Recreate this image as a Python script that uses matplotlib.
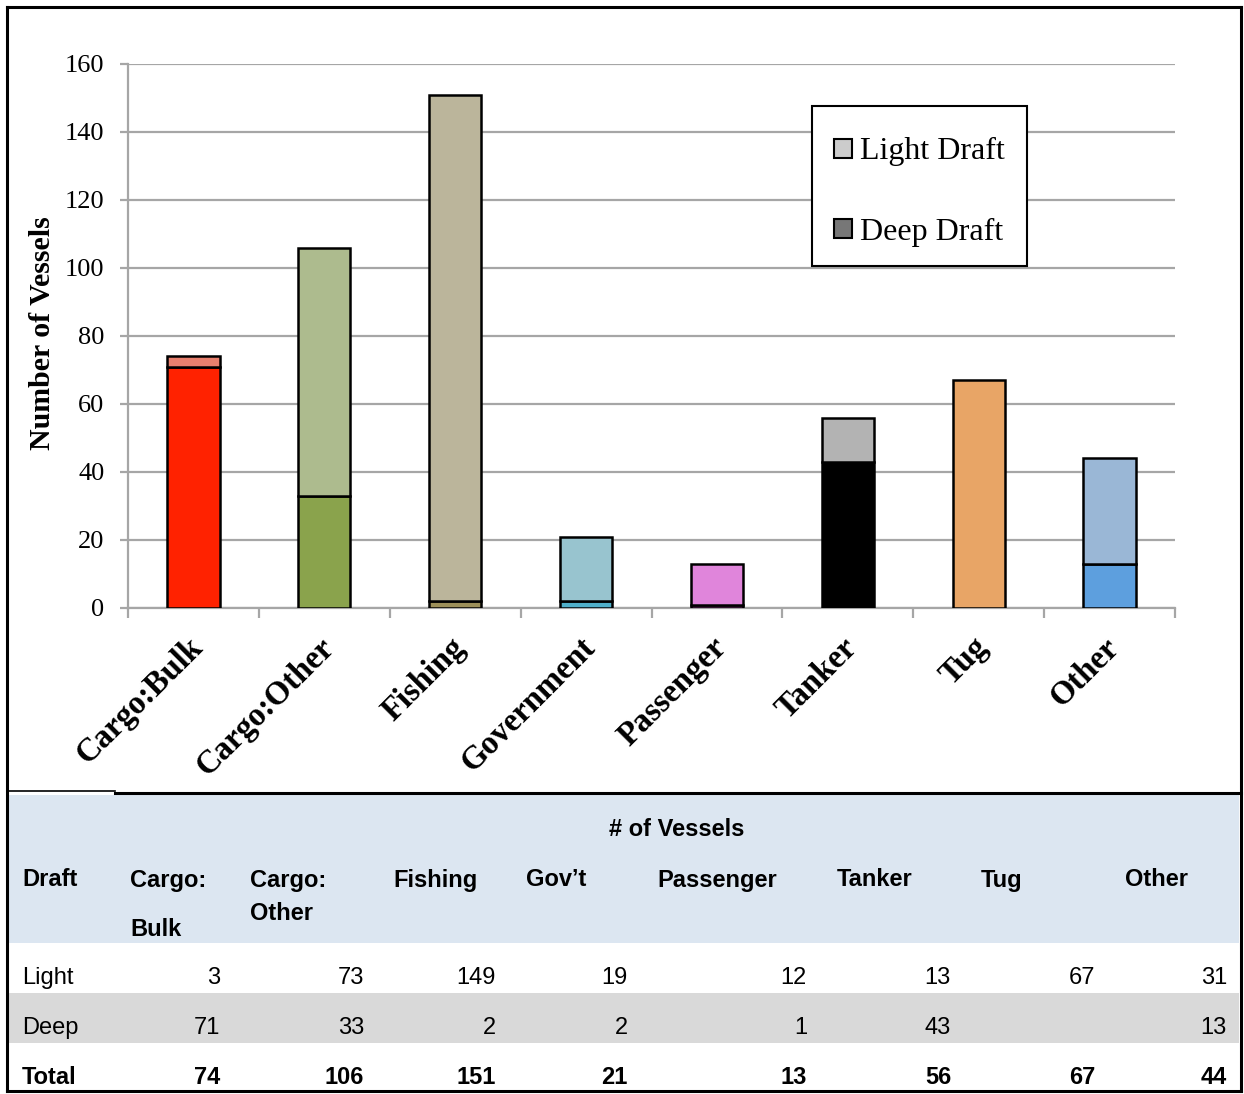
import numpy as np
import matplotlib
matplotlib.use("Agg")
import matplotlib.pyplot as plt
from matplotlib.patches import Patch, Rectangle
from matplotlib.lines import Line2D
from matplotlib.transforms import ScaledTranslation

# ---- data -------------------------------------------------------------
categories = ["Cargo:Bulk", "Cargo:Other", "Fishing", "Government",
              "Passenger", "Tanker", "Tug", "Other"]
light_draft = [3, 73, 149, 19, 12, 13, 67, 31]
deep_draft = [71, 33, 2, 2, 1, 43, 0, 13]

light_colors = ["#E8806E", "#ADBB8E", "#BBB59B", "#98C4CF",
                "#E085DB", "#B3B3B3", "#E8A566", "#9AB7D6"]
deep_colors = ["#FF2200", "#8AA34C", "#9C8F58", "#4FAFC9",
               "#C850C0", "#000000", "#E8A566", "#5D9FDE"]

table_headers = [["Cargo:", "Bulk"], ["Cargo:", "Other"], ["Fishing"], ["Gov\u2019t"],
                 ["Passenger"], ["Tanker"], ["Tug"], ["Other"]]
y_ticks = [0, 20, 40, 60, 80, 100, 120, 140, 160]

# ---- figure in pixel units ---------------------------------------------
W, H = 1244, 1094
fig = plt.figure(figsize=(W / 100, H / 100), dpi=100)


def fx(x):
    return x / W


def fy(y):
    return 1 - y / H


SERIF = ["Liberation Serif", "DejaVu Serif"]
SANS = ["Liberation Sans Narrow", "Liberation Sans", "DejaVu Sans"]
GRID = "#A6A6A6"

ax = fig.add_axes([fx(128), fy(608), (1175 - 128) / W, (608 - 64) / H])
x = np.arange(len(categories))

ax.bar(x, deep_draft, width=0.4, color=deep_colors, edgecolor="black",
       linewidth=1.8, zorder=3)
ax.bar(x, light_draft, width=0.4, bottom=deep_draft, color=light_colors,
       edgecolor="black", linewidth=1.8, zorder=3)

ax.set_xlim(-0.5, len(categories) - 0.5)
ax.set_ylim(0, 160)
ax.set_yticks(y_ticks)
ax.yaxis.grid(True, color=GRID, linewidth=1.6)
ax.set_axisbelow(True)
for side in ("top", "right"):
    ax.spines[side].set_visible(False)
for side in ("left", "bottom"):
    ax.spines[side].set_color(GRID)
    ax.spines[side].set_linewidth(1.6)

ax.tick_params(axis="y", length=6, width=1.6, color=GRID, pad=11)
for lab in ax.get_yticklabels():
    lab.set_fontfamily(SERIF)
    lab.set_fontsize(19)

ax.set_xticks(x)
ax.set_xticks(np.arange(-0.5, len(categories), 1), minor=True)
ax.tick_params(axis="x", which="major", length=0, pad=17)
ax.tick_params(axis="x", which="minor", length=7.2, width=1.6, color=GRID)
ax.set_xticklabels(categories, rotation=45, ha="right", va="top",
                   rotation_mode="anchor", fontfamily=SERIF,
                   fontweight="bold", fontsize=23.5)
shift = ScaledTranslation(-6 / 100, 0, fig.dpi_scale_trans)
for lab in ax.get_xticklabels():
    lab.set_transform(lab.get_transform() + shift)

ax.set_ylabel("Number of Vessels", fontfamily=SERIF, fontweight="bold",
              fontsize=21.5)
ax.yaxis.set_label_coords((56 - 128) / 1047, (608 - 333) / 544)

# legend entries placed without a frame; the box is drawn separately
handles = [Patch(facecolor="#CCCCCC", edgecolor="black", linewidth=1.5),
           Patch(facecolor="#777777", edgecolor="black", linewidth=1.5)]
leg = fig.legend(handles, ["Light Draft", "Deep Draft"], loc="center left",
                 bbox_to_anchor=(fx(834), fy(192)), borderaxespad=0,
                 prop={"family": SERIF, "size": 23}, frameon=False,
                 handlelength=0.55, handleheight=0.55, handletextpad=0.25,
                 labelspacing=1.6, borderpad=0)
fig.patches.append(Rectangle((fx(812), fy(266)), fx(1027) - fx(812), fy(106) - fy(266),
                             transform=fig.transFigure, facecolor="white",
                             edgecolor="black", linewidth=1.5, zorder=1))
leg.set_zorder(2)

# ---- borders and table backgrounds -------------------------------------
fig.patches.append(Rectangle((fx(9), fy(943)), fx(1239) - fx(9), fy(795) - fy(943),
                             transform=fig.transFigure, facecolor="#DCE6F1",
                             edgecolor="none", zorder=0))
fig.patches.append(Rectangle((fx(9), fy(1043)), fx(1239) - fx(9), fy(993) - fy(1043),
                             transform=fig.transFigure, facecolor="#D9D9D9",
                             edgecolor="none", zorder=0))


def hline(x0, x1, y, lw):
    fig.lines.append(Line2D([fx(x0), fx(x1)], [fy(y), fy(y)], color="black",
                            linewidth=lw, transform=fig.transFigure))


def vline(xp, y0, y1, lw):
    fig.lines.append(Line2D([fx(xp), fx(xp)], [fy(y0), fy(y1)], color="black",
                            linewidth=lw, transform=fig.transFigure))


hline(7, 1241, 7, 2.2)
hline(7, 115, 791, 1.2)
hline(115, 1241, 793, 2.2)
hline(7, 1241, 1091, 2.2)
vline(7, 7, 1091, 2.2)
vline(1241, 7, 1091, 2.2)

# ---- table text --------------------------------------------------------
TS = 17
DY = 2
fig.text(fx(677), fy(828 + DY), "# of Vessels", ha="center", va="center",
         fontfamily=SANS, fontweight="bold", fontsize=TS)
fig.text(fx(22), fy(878 + DY), "Draft", ha="left", va="center",
         fontfamily=SANS, fontweight="bold", fontsize=TS)

header_x = [130, 250, 393, 526, 657, 837, 981, 1125]
second_line_y = [927, 911]
for i, parts in enumerate(table_headers):
    fig.text(fx(header_x[i]), fy(878 + DY), parts[0], ha="left", va="center",
             fontfamily=SANS, fontweight="bold", fontsize=TS)
    if len(parts) > 1:
        fig.text(fx(header_x[i]), fy(second_line_y[i] + DY), parts[1], ha="left",
                 va="center", fontfamily=SANS, fontweight="bold", fontsize=TS)

value_right = [220, 364, 496, 628, 807, 951, 1095, 1227]
totals = [l + d for l, d in zip(light_draft, deep_draft)]
rows = [("Light", light_draft, 976, "normal"),
        ("Deep", deep_draft, 1026, "normal"),
        ("Total", totals, 1076, "bold")]
for name, vals, yy, wt in rows:
    fig.text(fx(22), fy(yy + DY), name, ha="left", va="center",
             fontfamily=SANS, fontweight=wt, fontsize=TS)
    for xr, v in zip(value_right, vals):
        if v:
            fig.text(fx(xr), fy(yy + DY), str(v), ha="right", va="center",
                     fontfamily=SANS, fontweight=wt, fontsize=TS)

fig.savefig("out.png", dpi=100)
